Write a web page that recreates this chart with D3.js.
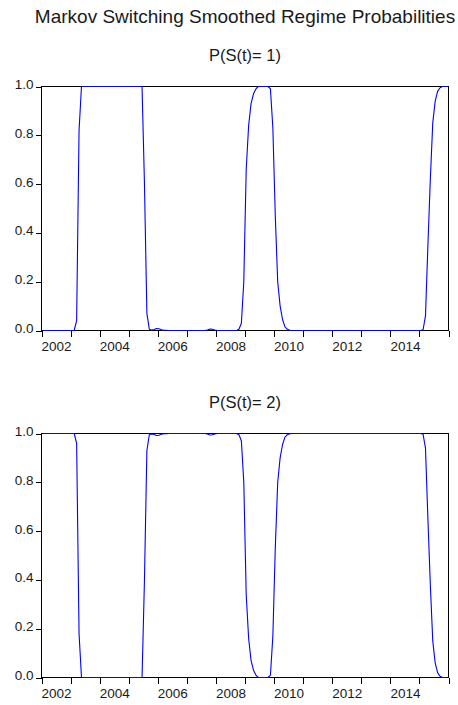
<!DOCTYPE html>
<html>
<head>
<meta charset="utf-8">
<script src="https://cdn.jsdelivr.net/npm/d3@7"></script>
<style>
  html, body { margin: 0; padding: 0; background: #fff; }
  svg { display: block; font-family: "Liberation Sans", Arial, sans-serif; }
</style>
</head>
<body>
<svg id="chart" width="458" height="705"></svg>
<script>
// ---------- data ----------
const chartTitle = "Markov Switching Smoothed Regime Probabilities";
const panelTitles = ["P(S(t)= 1)", "P(S(t)= 2)"];
const startYear = 2002;           // monthly observations 2002M01 .. 2015M12
const endYear = 2016;
const yearTicks = [2002, 2003, 2004, 2005, 2006, 2007, 2008, 2009, 2010, 2011, 2012, 2013, 2014, 2015, 2016];
const xTickLabels = ["2002", "2004", "2006", "2008", "2010", "2012", "2014"];
const yTicks = [0.0, 0.2, 0.4, 0.6, 0.8, 1.0];

// Smoothed probability of regime 1 (one row per year, Jan..Dec)
const probRegime1 = [
  0, 0, 0, 0, 0, 0, 0, 0, 0, 0, 0, 0,                                   // 2002
  0, 0, 0.04, 0.82, 1, 1, 1, 1, 1, 1, 1, 1,                             // 2003
  1, 1, 1, 1, 1, 1, 1, 1, 1, 1, 1, 1,                                   // 2004
  1, 1, 1, 1, 1, 1, 0.6, 0.07, 0.005, 0.002, 0.004, 0.008,              // 2005
  0.007, 0.003, 0.001, 0.001, 0, 0, 0, 0, 0, 0, 0, 0,                   // 2006
  0, 0, 0, 0, 0, 0, 0, 0, 0.002, 0.006, 0.005, 0.002,                   // 2007
  0, 0, 0, 0, 0, 0, 0, 0, 0, 0.005, 0.03, 0.2,                          // 2008
  0.66, 0.84, 0.93, 0.97, 0.99, 1, 1, 1, 1, 1, 0.99, 0.83,              // 2009
  0.47, 0.2, 0.1, 0.045, 0.015, 0.005, 0.001, 0, 0, 0, 0, 0,            // 2010
  0, 0, 0, 0, 0, 0, 0, 0, 0, 0, 0, 0,                                   // 2011
  0, 0, 0, 0, 0, 0, 0, 0, 0, 0, 0, 0,                                   // 2012
  0, 0, 0, 0, 0, 0, 0, 0, 0, 0, 0, 0,                                   // 2013
  0, 0, 0, 0, 0, 0, 0, 0, 0, 0, 0, 0,                                   // 2014
  0, 0.003, 0.06, 0.35, 0.62, 0.85, 0.94, 0.98, 0.995, 1, 1, 1          // 2015
];

// Smoothed probability of regime 2
const probRegime2 = [
  1, 1, 1, 1, 1, 1, 1, 1, 1, 1, 1, 1,                                   // 2002
  1, 1, 0.96, 0.18, 0, 0, 0, 0, 0, 0, 0, 0,                             // 2003
  0, 0, 0, 0, 0, 0, 0, 0, 0, 0, 0, 0,                                   // 2004
  0, 0, 0, 0, 0, 0, 0.4, 0.93, 0.995, 0.998, 0.996, 0.992,              // 2005
  0.993, 0.997, 0.999, 0.999, 1, 1, 1, 1, 1, 1, 1, 1,                   // 2006
  1, 1, 1, 1, 1, 1, 1, 1, 0.998, 0.994, 0.995, 0.998,                   // 2007
  1, 1, 1, 1, 1, 1, 1, 1, 1, 0.995, 0.97, 0.8,                          // 2008
  0.34, 0.16, 0.07, 0.03, 0.01, 0, 0, 0, 0, 0, 0.01, 0.17,              // 2009
  0.53, 0.8, 0.9, 0.955, 0.985, 0.995, 0.999, 1, 1, 1, 1, 1,            // 2010
  1, 1, 1, 1, 1, 1, 1, 1, 1, 1, 1, 1,                                   // 2011
  1, 1, 1, 1, 1, 1, 1, 1, 1, 1, 1, 1,                                   // 2012
  1, 1, 1, 1, 1, 1, 1, 1, 1, 1, 1, 1,                                   // 2013
  1, 1, 1, 1, 1, 1, 1, 1, 1, 1, 1, 1,                                   // 2014
  1, 0.997, 0.94, 0.65, 0.38, 0.15, 0.06, 0.02, 0.005, 0, 0, 0          // 2015
];

// ---------- layout ----------
const svg = d3.select("#chart");
const left = 41.5, right = 448.5;
const panels = [
  { top: 86.5, bottom: 330.5, title: panelTitles[0], values: probRegime1, titleY: 60.7 },
  { top: 433.5, bottom: 677.5, title: panelTitles[1], values: probRegime2, titleY: 408.3 }
];
const textColor = "#1a1a1a";
const lineColor = "#0000ff";

const x = d3.scaleLinear().domain([startYear, endYear]).range([left, right]);
const midX = (left + right) / 2;

svg.append("text")
  .attr("x", midX).attr("y", 23.3)
  .attr("text-anchor", "middle")
  .attr("font-size", 19)
  .attr("fill", textColor)
  .text(chartTitle);

panels.forEach(p => {
  const y = d3.scaleLinear().domain([0, 1]).range([p.bottom, p.top]);
  const g = svg.append("g");

  g.append("text")
    .attr("x", midX).attr("y", p.titleY)
    .attr("text-anchor", "middle")
    .attr("font-size", 16.5)
    .attr("fill", textColor)
    .text(p.title);

  // y axis ticks + labels
  const yAxis = d3.axisLeft(y)
    .tickValues(yTicks)
    .tickFormat(d3.format(".1f"))
    .tickSize(6)
    .tickPadding(2);
  const ya = g.append("g").attr("transform", `translate(${left},0)`).call(yAxis);
  ya.select(".domain").remove();
  ya.selectAll(".tick line").attr("stroke", "#000").attr("shape-rendering", "crispEdges");
  ya.selectAll(".tick text")
    .attr("font-size", 13.5)
    .attr("font-family", "Liberation Sans, Arial, sans-serif")
    .attr("fill", textColor)
    .attr("dy", null)
    .attr("y", 2)
    .attr("dominant-baseline", "auto");

  // x axis ticks (each year)
  const xAxis = d3.axisBottom(x).tickValues(yearTicks).tickFormat("").tickSize(6).tickSizeOuter(0);
  const xa = g.append("g").attr("transform", `translate(0,${p.bottom})`).call(xAxis);
  xa.select(".domain").remove();
  xa.selectAll(".tick line").attr("stroke", "#000").attr("shape-rendering", "crispEdges");

  // x labels centred on the year span
  const xLabAxis = d3.axisBottom(x)
    .tickValues(xTickLabels.map(s => +s + 0.5))
    .tickFormat((d, i) => xTickLabels[i])
    .tickSize(0).tickSizeOuter(0);
  const xl = g.append("g").attr("transform", `translate(0,${p.bottom})`).call(xLabAxis);
  xl.select(".domain").remove();
  xl.selectAll(".tick line").remove();
  xl.selectAll(".tick text")
    .attr("font-size", 13.5)
    .attr("font-family", "Liberation Sans, Arial, sans-serif")
    .attr("fill", textColor)
    .attr("dy", null)
    .attr("y", 20.5);

  // frame
  g.append("rect")
    .attr("x", left).attr("y", p.top)
    .attr("width", right - left).attr("height", p.bottom - p.top)
    .attr("fill", "none").attr("stroke", "#000").attr("stroke-width", 1)
    .attr("shape-rendering", "crispEdges");

  // series line
  const line = d3.line()
    .x((d, i) => x(startYear + (i + 0.5) / 12))
    .y(d => y(d));
  g.append("path")
    .datum(p.values)
    .attr("d", line)
    .attr("fill", "none")
    .attr("stroke", lineColor)
    .attr("stroke-width", 1.1)
    .attr("stroke-linejoin", "round");
});
</script>
</body>
</html>
